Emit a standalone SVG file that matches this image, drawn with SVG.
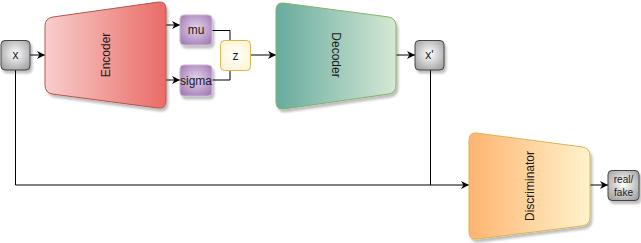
<svg xmlns="http://www.w3.org/2000/svg" width="641" height="243" viewBox="0 0 641 243">
  <style>
    text { font-family: "Liberation Sans", Arial, sans-serif; font-size: 12px; fill: #1a1a1a; text-anchor: middle; dominant-baseline: central; }
    .small { font-size: 10px; }
    .wire { fill: none; stroke: #000; stroke-width: 1; }
    .gray { fill: url(#gGray); stroke: #444; stroke-width: 1; }
    .purple { fill: url(#gPurple); stroke: #c9b3d6; stroke-width: 1; }
  </style>
  <defs>
    <filter id="shadow" x="-20%" y="-20%" width="150%" height="150%">
      <feDropShadow dx="2" dy="3" stdDeviation="1.2" flood-color="#000" flood-opacity="0.25"/>
    </filter>
    <radialGradient id="gGray" cx="50%" cy="45%" r="65%">
      <stop offset="0" stop-color="#ffffff"/>
      <stop offset="1" stop-color="#a0a0a0"/>
    </radialGradient>
    <radialGradient id="gPurple" cx="50%" cy="45%" r="65%">
      <stop offset="0" stop-color="#e4d4ec"/>
      <stop offset="1" stop-color="#a27cb4"/>
    </radialGradient>
    <radialGradient id="gYellow" cx="50%" cy="50%" r="70%">
      <stop offset="0" stop-color="#ffffff"/>
      <stop offset="1" stop-color="#fff2cc"/>
    </radialGradient>
    <linearGradient id="gRed" x1="0" y1="0" x2="1" y2="0">
      <stop offset="0" stop-color="#f8cecc"/>
      <stop offset="1" stop-color="#ea6b66"/>
    </linearGradient>
    <linearGradient id="gGreen" x1="0" y1="0" x2="1" y2="0">
      <stop offset="0" stop-color="#67ab9f"/>
      <stop offset="1" stop-color="#d5e8d4"/>
    </linearGradient>
    <linearGradient id="gOrange" x1="0" y1="0" x2="1" y2="0">
      <stop offset="0" stop-color="#ffb570"/>
      <stop offset="1" stop-color="#fff2cc"/>
    </linearGradient>
    <marker id="arrow" viewBox="0 0 10 10" refX="10" refY="5" markerWidth="8" markerHeight="8" markerUnits="userSpaceOnUse" orient="auto">
      <path d="M0,0 L10,5 L0,10 L3,5 Z" fill="#000"/>
    </marker>
  </defs>

  <!-- connectors -->
  <g id="edges">
    <path class="wire" d="M30,55 L45,55" marker-end="url(#arrow)"/>
    <path class="wire" d="M166,25 L180,25" marker-end="url(#arrow)"/>
    <path class="wire" d="M166,80 L180,80" marker-end="url(#arrow)"/>
    <path class="wire" d="M212,30.5 L230,30.5 L230,40"/>
    <path class="wire" d="M212,80 L230,80 L230,70"/>
    <path class="wire" d="M250,55 L276,55" marker-end="url(#arrow)"/>
    <path class="wire" d="M396,55 L415,55" marker-end="url(#arrow)"/>
    <path class="wire" d="M15.5,70 L15.5,185 L469,185" marker-end="url(#arrow)"/>
    <path class="wire" d="M430.5,70 L430.5,185"/>
    <path class="wire" d="M590,185 L608,185" marker-end="url(#arrow)"/>
  </g>

  <!-- input -->
  <g id="x">
    <rect class="gray" x="1" y="40.5" width="29" height="29.5" rx="4" filter="url(#shadow)"/>
    <text x="15.5" y="55">x</text>
  </g>

  <g id="encoder">
    <path d="M45,26 Q45,18 53,17 L158,2.1 Q166,1 166,9 L166,101 Q166,109 158,108 L53,94.1 Q45,93 45,85 Z" fill="url(#gRed)" stroke="#b85450" stroke-width="1" filter="url(#shadow)"/>
    <text transform="translate(105.5,55) rotate(-90)">Encoder</text>
  </g>

  <g id="mu">
    <rect class="purple" x="180" y="15" width="32" height="30" rx="4" filter="url(#shadow)"/>
    <text x="196" y="30">mu</text>
  </g>

  <g id="sigma">
    <rect class="purple" x="180" y="65" width="32" height="31" rx="4" filter="url(#shadow)"/>
    <text x="196" y="80.5">sigma</text>
  </g>

  <g id="z">
    <rect x="220.5" y="40.5" width="30" height="30" rx="4" fill="url(#gYellow)" stroke="#d6b656" stroke-width="1"/>
    <text x="235.5" y="55.5">z</text>
  </g>

  <g id="decoder">
    <path d="M276,10 Q276,2 284,3.1 L388,16.9 Q396,18 396,26 L396,85 Q396,93 388,94.1 L284,108.9 Q276,110 276,102 Z" fill="url(#gGreen)" stroke="#82b366" stroke-width="1" filter="url(#shadow)"/>
    <text transform="translate(336,55) rotate(90)">Decoder</text>
  </g>

  <g id="x-prime">
    <rect class="gray" x="415" y="40.5" width="29" height="29.5" rx="4" filter="url(#shadow)"/>
    <text x="429.5" y="55">x'</text>
  </g>

  <g id="discriminator">
    <path d="M469,140 Q469,132 477,133.1 L582,146.9 Q590,148 590,156 L590,217 Q590,225 582,226 L477,239 Q469,240 469,232 Z" fill="url(#gOrange)" stroke="#d6b656" stroke-width="1" filter="url(#shadow)"/>
    <text transform="translate(529.5,186) rotate(-90)">Discriminator</text>
  </g>

  <g id="real-fake">
    <rect class="gray" x="608" y="170.5" width="31" height="30" rx="4" filter="url(#shadow)"/>
    <text class="small" x="623.5" y="179">real/</text>
    <text class="small" x="623.5" y="192">fake</text>
  </g>
</svg>
